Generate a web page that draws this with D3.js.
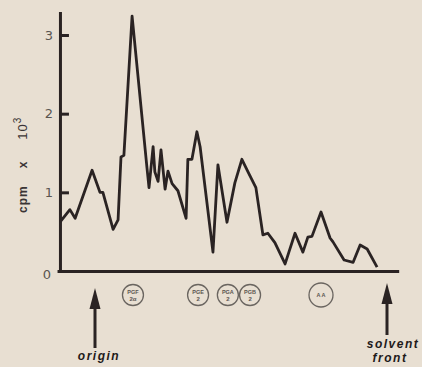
<!DOCTYPE html>
<html>
<head>
<meta charset="utf-8">
<script src="https://cdn.jsdelivr.net/npm/d3@7"></script>
<style>
  html, body { margin: 0; padding: 0; background: #e8dfd2; }
  svg { display: block; }
</style>
</head>
<body>
<svg id="chart" width="422" height="367"></svg>
<script>
// radioactivity along the TLC lane, x = Rf (origin 0, solvent front 1)
const rfValues = [-0.120, -0.086, -0.068, -0.010, 0.017, 0.027, 0.062, 0.079, 0.089, 0.099,
  0.127, 0.178, 0.185, 0.199, 0.205, 0.216, 0.226, 0.240, 0.250, 0.264,
  0.284, 0.312, 0.318, 0.332, 0.349, 0.360, 0.404, 0.421, 0.452, 0.479,
  0.503, 0.524, 0.551, 0.575, 0.592, 0.616, 0.651, 0.664, 0.685, 0.712,
  0.729, 0.743, 0.774, 0.805, 0.815, 0.853, 0.884, 0.908, 0.932, 0.966];
const cpmValues = [0.62, 0.78, 0.67, 1.28, 1.00, 1.00, 0.53, 0.65, 1.45, 1.47,
  3.24, 1.31, 1.06, 1.58, 1.26, 1.14, 1.54, 1.04, 1.27, 1.11,
  1.02, 0.67, 1.42, 1.42, 1.77, 1.58, 0.24, 1.35, 0.62, 1.12,
  1.42, 1.26, 1.06, 0.46, 0.48, 0.36, 0.09, 0.24, 0.48, 0.24,
  0.43, 0.44, 0.75, 0.42, 0.37, 0.14, 0.11, 0.33, 0.28, 0.05];
const yTicks = [0, 1, 2, 3];
// standards spotted below the lane
const standardNames = [["PGF", "2\u03b1"], ["PGE", "2"], ["PGA", "2"], ["PGB", "2"], ["AA", ""]];
const standardRf = [0.130, 0.353, 0.455, 0.531, 0.774];

const svg = d3.select('#chart');
const ink = '#2a2323';

const x = d3.scaleLinear().domain([0, 1]).range([95, 387]);
const xLane = d3.scaleLinear().domain([-0.13, 1.04]).range([x(-0.13), x(1.04)]);
const y = d3.scaleLinear().domain([0, 3]).range([271, 35]);
const yAxisScale = y.copy().domain([0, 3.3]).range([y(0), y(3.3)]);

// y axis
const yAxisG = svg.append('g')
  .attr('transform', `translate(${x(-0.12)},0)`)
  .call(d3.axisLeft(yAxisScale).tickValues(yTicks).tickSize(-9).tickSizeOuter(0).tickPadding(7).tickFormat(d3.format('d')));
yAxisG.select('.domain').attr('stroke', ink).attr('stroke-width', 3);
yAxisG.selectAll('.tick line').attr('stroke', ink).attr('stroke-width', 3);
yAxisG.selectAll('.tick text')
  .attr('fill', '#5a5550')
  .style('font-family', '"DejaVu Sans", sans-serif')
  .style('font-size', '13px');
yAxisG.selectAll('.tick').filter(d => d === 0).select('text').attr('dy', '0.55em').attr('x', -9);
yAxisG.selectAll('.tick').filter(d => d === 0).select('line').remove();

// baseline
const xAxisG = svg.append('g')
  .attr('transform', `translate(0,${y(0)})`)
  .call(d3.axisBottom(xLane).tickValues([]).tickSizeOuter(0));
xAxisG.select('.domain').attr('stroke', ink).attr('stroke-width', 3);

// y label
const yLabel = svg.append('text')
  .attr('transform', 'rotate(-90)')
  .attr('x', -213)
  .attr('y', 27)
  .attr('fill', '#3a3535')
  .style('font-family', '"Liberation Sans", Arial, sans-serif')
  .style('font-weight', 'bold')
  .style('font-size', '12px')
  .style('letter-spacing', '1px');
yLabel.append('tspan').text('cpm');
yLabel.append('tspan').attr('dx', 17).text('x');
yLabel.append('tspan').attr('dx', 21).style('font-weight', 'normal').style('font-size', '13px').text('10');
yLabel.append('tspan').attr('dy', -6).style('font-weight', 'normal').style('font-size', '10px').text('3');

// the trace
const trace = rfValues.map((rf, i) => ({ rf: rf, cpm: cpmValues[i] }));
svg.append('path')
  .datum(trace)
  .attr('fill', 'none')
  .attr('stroke', ink)
  .attr('stroke-width', 2.8)
  .attr('stroke-linejoin', 'round')
  .attr('d', d3.line().x(d => x(d.rf)).y(d => y(d.cpm)));

// standards
const spots = svg.selectAll('g.spot')
  .data(standardNames.map((n, i) => ({ name: n, rf: standardRf[i] })))
  .join('g')
  .attr('class', 'spot')
  .attr('transform', d => `translate(${x(d.rf)},295)`);
spots.append('circle')
  .attr('r', d => d.name[0] === 'AA' ? 12 : 10.5)
  .attr('fill', 'none')
  .attr('stroke', '#6a6560')
  .attr('stroke-width', 1.3);
spots.append('text')
  .attr('text-anchor', 'middle')
  .attr('y', d => d.name[1] ? -1 : 2)
  .attr('fill', '#5a5550')
  .style('font-family', '"Liberation Sans", Arial, sans-serif')
  .style('font-weight', 'bold')
  .style('font-size', '5.5px')
  .text(d => d.name[0] === 'AA' ? 'A A' : d.name[0]);
spots.append('text')
  .attr('text-anchor', 'middle')
  .attr('y', 6)
  .attr('fill', '#5a5550')
  .style('font-family', '"Liberation Sans", Arial, sans-serif')
  .style('font-weight', 'bold')
  .style('font-size', '6px')
  .text(d => d.name[1]);

// arrows for origin and solvent front
function arrow(xPos, tipY, tailY) {
  svg.append('line')
    .attr('x1', xPos).attr('x2', xPos)
    .attr('y1', tailY).attr('y2', tipY + 16)
    .attr('stroke', ink).attr('stroke-width', 3);
  svg.append('path')
    .attr('d', `M${xPos},${tipY} L${xPos - 5.5},${tipY + 21} L${xPos + 5.5},${tipY + 21} Z`)
    .attr('fill', ink);
}
arrow(x(0), 288, 348);
arrow(x(1), 283, 335);

const labelStyle = sel => sel
  .attr('text-anchor', 'middle')
  .attr('fill', '#1e1a1a')
  .style('font-family', '"Liberation Sans", Arial, sans-serif')
  .style('font-weight', 'bold')
  .style('font-style', 'italic')
  .style('font-size', '12px')
  .style('letter-spacing', '1.5px');

svg.append('text').attr('x', x(0) + 4).attr('y', 360).text('origin').call(labelStyle);
svg.append('text').attr('x', x(1) + 6).attr('y', 348).text('solvent').call(labelStyle);
svg.append('text').attr('x', x(1) + 3).attr('y', 362).text('front').call(labelStyle);
</script>
</body>
</html>
